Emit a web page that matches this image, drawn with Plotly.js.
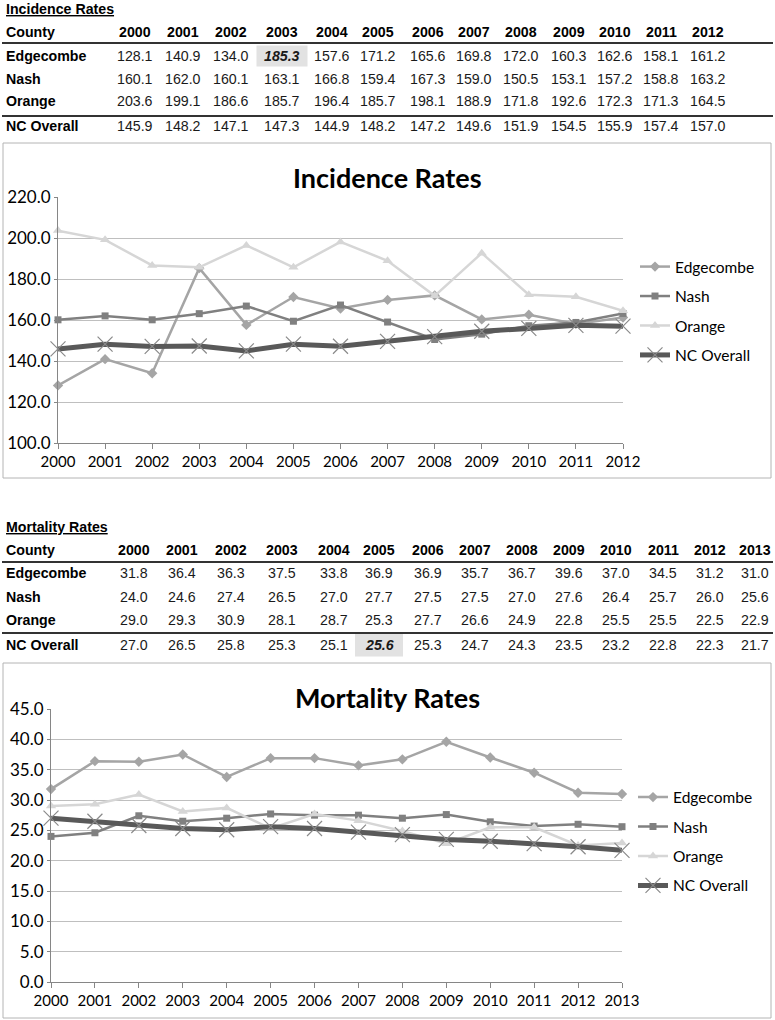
<!DOCTYPE html>
<html><head><meta charset="utf-8">
<script src="https://cdn.plot.ly/plotly-3.0.1.min.js"></script>
<style>html,body{margin:0;padding:0;background:#fff}#c{width:775px;height:1020px}</style>
</head><body><div id="c"></div>
<script>
// ---------- DATA ----------
const countyNames = ["Edgecombe", "Nash", "Orange", "NC Overall"];

const incYears = [2000,2001,2002,2003,2004,2005,2006,2007,2008,2009,2010,2011,2012];
const incEdgecombe = [128.1,140.9,134.0,185.3,157.6,171.2,165.6,169.8,172.0,160.3,162.6,158.1,161.2];
const incNash      = [160.1,162.0,160.1,163.1,166.8,159.4,167.3,159.0,150.5,153.1,157.2,158.8,163.2];
const incOrange    = [203.6,199.1,186.6,185.7,196.4,185.7,198.1,188.9,171.8,192.6,172.3,171.3,164.5];
const incNC        = [145.9,148.2,147.1,147.3,144.9,148.2,147.2,149.6,151.9,154.5,155.9,157.4,157.0];

const morYears = [2000,2001,2002,2003,2004,2005,2006,2007,2008,2009,2010,2011,2012,2013];
const morEdgecombe = [31.8,36.4,36.3,37.5,33.8,36.9,36.9,35.7,36.7,39.6,37.0,34.5,31.2,31.0];
const morNash      = [24.0,24.6,27.4,26.5,27.0,27.7,27.5,27.5,27.0,27.6,26.4,25.7,26.0,25.6];
const morOrange    = [29.0,29.3,30.9,28.1,28.7,25.3,27.7,26.6,24.9,22.8,25.5,25.5,22.5,22.9];
const morNC        = [27.0,26.5,25.8,25.3,25.1,25.6,25.3,24.7,24.3,23.5,23.2,22.8,22.3,21.7];

const incTitle = "Incidence Rates";
const morTitle = "Mortality Rates";
const tableHeader = "County";

// ---------- LAYOUT HELPERS ----------
const W = 775, H = 1020;
const px = x => x / W;
const py = y => 1 - y / H;

const tableFont = "Liberation Sans, Arial, sans-serif";
const chartFont = "Lato, Carlito, Calibri, Open Sans, sans-serif";
const tfs = 14.2;

const incCols = [135,183,231,282,332,378,428,474,521,569,615,661,708];
const morCols = [134,182,231,282,334,379,428,475,522,569,616,663,710,755];

const annotations = [];
const shapes = [];

function buildTable(title, years, rows, cols, rowY, lines, hl) {
  const hx = cols[years.indexOf(hl.year)];
  shapes.push({type:'rect', xref:'paper', yref:'paper', layer:'below',
    x0:px(hx-hl.w/2), x1:px(hx+hl.w/2), y0:py(rowY[hl.row+2]-hl.h/2), y1:py(rowY[hl.row+2]+hl.h/2),
    fillcolor:'#e2e2e2', line:{width:0}});
  annotations.push({xref:'paper', yref:'paper', x:px(4), y:py(rowY[0]), xanchor:'left', yanchor:'middle',
    text:'<b><u>'+title+'</u></b>', showarrow:false, font:{family:tableFont, size:tfs, color:'#000'}});
  annotations.push({xref:'paper', yref:'paper', x:px(4), y:py(rowY[1]), xanchor:'left', yanchor:'middle',
    text:'<b>'+tableHeader+'</b>', showarrow:false, font:{family:tableFont, size:tfs, color:'#000'}});
  years.forEach((yr, i) => {
    annotations.push({xref:'paper', yref:'paper', x:px(cols[i]), y:py(rowY[1]), xanchor:'center', yanchor:'middle',
      text:'<b>'+yr+'</b>', showarrow:false, font:{family:tableFont, size:tfs, color:'#000'}});
  });
  rows.forEach((vals, r) => {
    annotations.push({xref:'paper', yref:'paper', x:px(4), y:py(rowY[r+2]), xanchor:'left', yanchor:'middle',
      text:'<b>'+countyNames[r]+'</b>', showarrow:false, font:{family:tableFont, size:tfs, color:'#000'}});
    vals.forEach((v, i) => {
      const isHl = (r === hl.row && years[i] === hl.year);
      const t = isHl ? '<b><i>'+v.toFixed(1)+'</i></b>' : v.toFixed(1);
      annotations.push({xref:'paper', yref:'paper', x:px(cols[i]), y:py(rowY[r+2]), xanchor:'center', yanchor:'middle',
        text:t, showarrow:false, font:{family:tableFont, size:tfs, color:'#1a1a1a'}});
    });
  });
  lines.forEach(ly => shapes.push({type:'line', xref:'paper', yref:'paper',
    x0:px(2), x1:px(773), y0:py(ly), y1:py(ly), line:{color:'#333', width:2}}));
}

buildTable(incTitle, incYears, [incEdgecombe, incNash, incOrange, incNC], incCols,
  [9, 32, 56, 79, 101, 126], [43, 116], {row:0, year:2003, w:51, h:21});
buildTable(morTitle, morYears, [morEdgecombe, morNash, morOrange, morNC], morCols,
  [527, 550, 573, 597, 620, 645], [562, 633], {row:3, year:2005, w:48, h:23});

// chart frames
[[143,478],[663,1018]].forEach(([t,b]) => shapes.push({type:'rect', xref:'paper', yref:'paper', layer:'below',
  x0:px(3), x1:px(771), y0:py(b), y1:py(t), line:{color:'#b4b4b4', width:1}, fillcolor:'rgba(0,0,0,0)'}));

// chart titles
annotations.push({xref:'paper', yref:'paper', x:px(387), y:py(177), xanchor:'center', yanchor:'middle',
  text:'<b>'+incTitle+'</b>', showarrow:false, font:{family:chartFont, size:27, color:'#000'}});
annotations.push({xref:'paper', yref:'paper', x:px(387), y:py(697), xanchor:'center', yanchor:'middle',
  text:'<b>'+morTitle+'</b>', showarrow:false, font:{family:chartFont, size:27, color:'#000'}});

// ---------- TRACES ----------
const styles = [
  {line:{color:'#a5a5a5', width:2.5}, marker:{symbol:'diamond', size:8, color:'#a5a5a5'}},
  {line:{color:'#808080', width:2.5}, marker:{symbol:'square', size:7, color:'#808080'}},
  {line:{color:'#d6d6d6', width:2.5}, marker:{symbol:'triangle-up', size:9, color:'#d6d6d6'}},
  {line:{color:'#595959', width:5}, marker:{symbol:'x-thin', size:15, color:'#8a8a8a', line:{color:'#8a8a8a', width:1.2}}}
];

const traces = [];
function addSeries(years, series, xa, ya, leg, grp) {
  series.forEach((vals, i) => {
    traces.push({type:'scatter', mode:'lines+markers', x:years, y:vals, name:countyNames[i],
      xaxis:xa, yaxis:ya, legend:leg, legendgroup:grp+i, cliponaxis:false,
      line:styles[i].line, marker:styles[i].marker});
  });
}
addSeries(incYears, [incEdgecombe, incNash, incOrange, incNC], 'x', 'y', 'legend', 'a');
addSeries(morYears, [morEdgecombe, morNash, morOrange, morNC], 'x2', 'y2', 'legend2', 'b');

const axCommon = {showline:true, linecolor:'#868686', linewidth:1, ticks:'outside', tickcolor:'#868686',
  zeroline:false, fixedrange:true};

const layout = {
  width: W, height: H, margin:{l:0, r:0, t:0, b:0},
  paper_bgcolor:'#fff', plot_bgcolor:'rgba(0,0,0,0)',
  font:{family:chartFont, color:'#000'},
  xaxis: Object.assign({}, axCommon, {domain:[px(58), px(623)], range:[2000,2012], tickvals:incYears,
    ticklen:5, showgrid:false, anchor:'y', tickfont:{family:chartFont, size:15, color:'#000'}}),
  yaxis: Object.assign({}, axCommon, {domain:[py(443), py(197)], range:[100,220], dtick:20, tick0:100,
    tickformat:'.1f', ticklen:3, showgrid:true, gridcolor:'#bfbfbf', gridwidth:1, anchor:'x',
    tickfont:{family:chartFont, size:17, color:'#000'}}),
  xaxis2: Object.assign({}, axCommon, {domain:[px(51), px(622)], range:[2000,2013], tickvals:morYears,
    ticklen:5, showgrid:false, anchor:'y2', tickfont:{family:chartFont, size:15, color:'#000'}}),
  yaxis2: Object.assign({}, axCommon, {domain:[py(982), py(709)], range:[0,45], dtick:5, tick0:0,
    tickformat:'.1f', ticklen:3, showgrid:true, gridcolor:'#bfbfbf', gridwidth:1, anchor:'x2',
    tickfont:{family:chartFont, size:17, color:'#000'}}),
  showlegend:true,
  legend:{x:px(635), y:py(250), xanchor:'left', yanchor:'top', bgcolor:'rgba(0,0,0,0)',
    font:{family:chartFont, size:15.5, color:'#000'}, tracegroupgap:6.3, traceorder:'grouped'},
  legend2:{x:px(633), y:py(780.5), xanchor:'left', yanchor:'top', bgcolor:'rgba(0,0,0,0)',
    font:{family:chartFont, size:15.5, color:'#000'}, tracegroupgap:6.3, traceorder:'grouped'},
  annotations: annotations,
  shapes: shapes
};

Plotly.newPlot('c', traces, layout, {displayModeBar:false, staticPlot:true});
</script>
</body></html>
